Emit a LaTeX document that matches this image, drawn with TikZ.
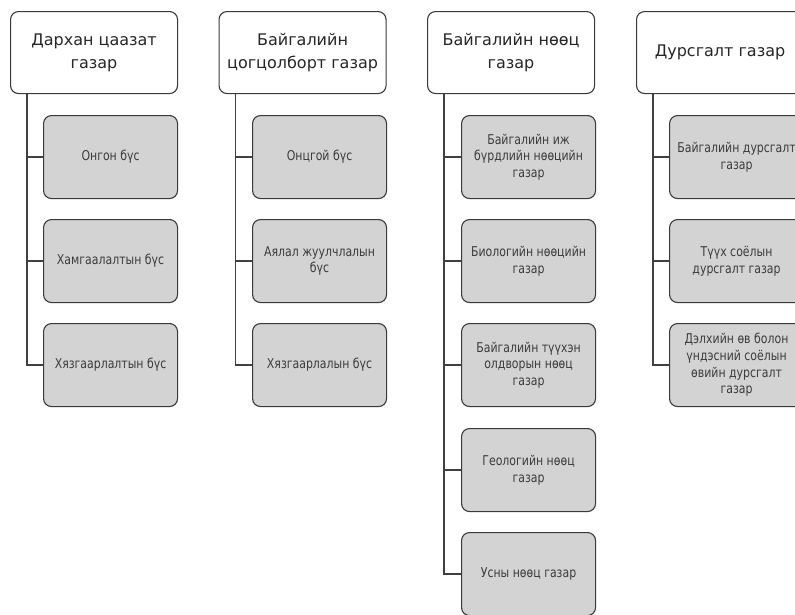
\documentclass[tikz,border=0pt]{standalone}
\usepackage{fontspec}
\setmainfont{DejaVu Sans}
\newfontfamily\hfont{DejaVu Sans}
\newfontfamily\cfont[FakeStretch=0.81]{DejaVu Sans}
\definecolor{boxline}{HTML}{3A3A3A}
\definecolor{linecol}{HTML}{404040}
\definecolor{childfill}{HTML}{D3D3D3}
\definecolor{headtext}{HTML}{262626}
\definecolor{childtext}{HTML}{3C3C3C}
\begin{document}
\begin{tikzpicture}[x=1pt,y=-1pt,
  headbox/.style={draw=boxline, line width=1.1pt, rounded corners=8pt, fill=white,
    minimum width=167pt, minimum height=82pt, inner sep=0pt, align=center,
    font=\hfont\fontsize{16}{23}\selectfont, text=headtext, anchor=north west},
  childbox/.style={draw=boxline, line width=1.1pt, rounded corners=8pt, fill=childfill,
    minimum width=134pt, minimum height=83pt, inner sep=0pt, align=center,
    font=\cfont\fontsize{13.5}{16.7}\selectfont, text=childtext, anchor=north west},
  conn/.style={draw=linecol, line width=1.2pt}]
\useasboundingbox (0,0) rectangle (795,614);
\clip (0,0) rectangle (795,614);

% column 1
\node[headbox] (h1) at (10,11) {Дархан цаазат\\газар};
\node[childbox] (c11) at (43,115) {Онгон бүс};
\node[childbox] (c12) at (43,219) {Хамгаалалтын бүс};
\node[childbox] (c13) at (43,323) {Хязгаарлалтын бүс};

% column 2
\node[headbox] (h2) at (218.5,11) {Байгалийн\\цогцолборт газар};
\node[childbox] (c21) at (252,115) {Онцгой бүс};
\node[childbox] (c22) at (252,219) {Аялал жуулчлалын\\бүс};
\node[childbox] (c23) at (252,323) {Хязгаарлалын бүс};

% column 3
\node[headbox] (h3) at (427,11) {Байгалийн нөөц\\газар};
\node[childbox] (c31) at (461,115) {Байгалийн иж\\бүрдлийн нөөцийн\\газар};
\node[childbox] (c32) at (461,219) {Биологийн нөөцийн\\газар};
\node[childbox] (c33) at (461,323) {Байгалийн түүхэн\\олдворын нөөц\\газар};
\node[childbox] (c34) at (461,428) {Геологийн нөөц\\газар};
\node[childbox] (c35) at (461,532) {Усны нөөц газар};

% column 4
\node[headbox] (h4) at (636,11) {Дурсгалт газар};
\node[childbox] (c41) at (669,115) {Байгалийн дурсгалт\\газар};
\node[childbox] (c42) at (669,219) {Түүх соёлын\\дурсгалт газар};
\node[childbox] (c43) at (669,323) {Дэлхийн өв болон\\үндэсний соёлын\\өвийн дурсгалт\\газар};

% connectors
\foreach \c in {c11,c12,c13} \draw[conn] ([xshift=17pt]h1.south west) |- (\c.west);
\foreach \c in {c21,c22,c23} \draw[conn] ([xshift=17pt]h2.south west) |- (\c.west);
\foreach \c in {c31,c32,c33,c34,c35} \draw[conn] ([xshift=17pt]h3.south west) |- (\c.west);
\foreach \c in {c41,c42,c43} \draw[conn] ([xshift=17pt]h4.south west) |- (\c.west);
\end{tikzpicture}
\end{document}
